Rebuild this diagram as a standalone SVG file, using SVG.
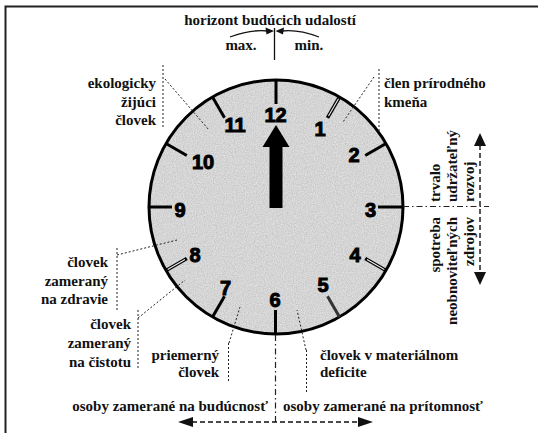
<svg xmlns="http://www.w3.org/2000/svg" width="538" height="433" viewBox="0 0 538 433">
<defs>
<filter id="speckle" x="0" y="0" width="100%" height="100%">
<feTurbulence type="fractalNoise" baseFrequency="0.9" numOctaves="2" seed="4" result="t"/>
<feColorMatrix in="t" type="matrix" values="0 0 0 0 0  0 0 0 0 0  0 0 0 0 0  0 0 0 0.22 -0.05" result="n"/>
<feComposite in="n" in2="SourceGraphic" operator="in"/>
</filter>
</defs>
<style>
.lbl{font-family:"Liberation Serif","Times New Roman",serif;font-weight:bold;font-size:15px;fill:#111}
.num{font-family:"Liberation Sans",Arial,sans-serif;font-weight:bold;font-size:20px;fill:#000;stroke:#000;stroke-width:1;text-anchor:middle}
.tick{stroke:#000;stroke-width:3;fill:none}
.dbl{stroke:#000;stroke-width:3.6;fill:none}
.dblin{stroke:#eee;stroke-width:1.1;fill:none}
.dot{stroke:#222;stroke-width:1;stroke-dasharray:2 2;fill:none}
.dashdot{stroke:#222;stroke-width:1.2;stroke-dasharray:6 3 1.5 3;fill:none}
.dash{stroke:#111;stroke-width:1.4;stroke-dasharray:5 3;fill:none}
.r{text-anchor:end}
</style>
<rect width="538" height="433" fill="#fff"/>
<path d="M5.5,433 V6.5 H538" fill="none" stroke="#222" stroke-width="2"/>

<g id="clock">
<circle cx="276" cy="207" r="127" fill="#e2e2e2"/>
<circle cx="276" cy="207" r="127" fill="#000" filter="url(#speckle)"/>
<circle cx="276" cy="207" r="127" fill="none" stroke="#000" stroke-width="3"/>
<g id="ticks">
<line class="tick" x1="276" y1="80" x2="276" y2="104"/>
<line class="tick" x1="212.5" y1="97" x2="224.5" y2="117.8"/>
<line class="tick" x1="166" y1="143.5" x2="186.8" y2="155.5"/>
<line class="tick" x1="149" y1="207" x2="172" y2="207"/>
<line class="tick" x1="212.5" y1="317" x2="224.5" y2="296.2"/>
<line class="tick" x1="275.5" y1="334" x2="275.5" y2="310"/>
<line x1="339.5" y1="317" x2="327.5" y2="296.2" stroke="#333" stroke-width="3"/>
<line class="tick" x1="386" y1="143.5" x2="365.2" y2="155.5"/>
<line class="tick" x1="403" y1="207" x2="378" y2="207"/>
<line class="dbl" x1="339.5" y1="97" x2="327.5" y2="117.8"/>
<line class="dblin" x1="338.5" y1="98.7" x2="328.5" y2="116"/>
<line class="dbl" x1="386" y1="270.5" x2="365.2" y2="258.5"/>
<line class="dblin" x1="384.3" y1="269.5" x2="367" y2="259.5"/>
<line class="dbl" x1="166" y1="270.5" x2="186.8" y2="258.5"/>
<line class="dblin" x1="167.7" y1="269.5" x2="185" y2="259.5"/>
</g>
<g id="numbers">
<text class="num" x="275.5" y="121.7">12</text>
<text class="num" x="235" y="132">11</text>
<text class="num" x="320" y="136">1</text>
<text class="num" x="203" y="169">10</text>
<text class="num" x="354" y="162">2</text>
<text class="num" x="180" y="217">9</text>
<text class="num" x="370.5" y="217">3</text>
<text class="num" x="195" y="262">8</text>
<text class="num" x="355" y="262">4</text>
<text class="num" x="225.5" y="294.5">7</text>
<text class="num" x="323" y="292">5</text>
<text class="num" x="275" y="307">6</text>
</g>
<g id="hand">
<polygon points="276,125 289.5,147 262.5,147" fill="#000"/>
<rect x="269.5" y="146" width="13" height="62" fill="#000"/>
</g>
</g>

<g id="horizon">
<text class="lbl" x="270" y="24.5" text-anchor="middle" font-size="14.5">horizont budúcich udalostí</text>
<text class="lbl" x="241" y="50" text-anchor="middle">max.</text>
<text class="lbl" x="309" y="50" text-anchor="middle">min.</text>
</g>

<g id="connectors">
<path d="M230,37 Q252,29 268,31" fill="none" stroke="#111" stroke-width="1.3"/>
<path d="M319,37 Q298,29 282,31" fill="none" stroke="#111" stroke-width="1.3"/>
<polygon points="274,31 265.5,27.5 266.5,34.5" fill="#111"/>
<polygon points="275.5,31 284,27.5 283,34.5" fill="#111"/>
<line x1="274.5" y1="28" x2="274.5" y2="60" stroke="#111" stroke-width="1.3"/>

<line class="dot" x1="163" y1="65" x2="163" y2="129"/>
<line class="dot" x1="165" y1="79" x2="209" y2="130"/>
<line class="dot" x1="379" y1="69" x2="379" y2="132"/>
<line class="dot" x1="374" y1="77" x2="343" y2="122"/>

<line class="dot" x1="117" y1="248" x2="117" y2="310"/>
<line class="dot" x1="117" y1="255" x2="177" y2="240"/>
<line class="dot" x1="138" y1="310" x2="138" y2="370"/>
<line class="dot" x1="138" y1="318" x2="185" y2="280"/>

<line class="dot" x1="228.5" y1="343" x2="228.5" y2="383"/>
<line class="dot" x1="229" y1="343" x2="240" y2="307"/>
<line class="dot" x1="306.5" y1="350" x2="306.5" y2="392"/>
<line class="dot" x1="306" y1="350" x2="297" y2="310"/>

<line class="dashdot" x1="403" y1="206.5" x2="489" y2="206.5"/>
<line class="dashdot" x1="275.5" y1="335" x2="275.5" y2="422"/>

<line class="dash" x1="480" y1="145" x2="480" y2="273"/>
<polygon points="480,133 486,146 474,146" fill="#111"/>
<polygon points="480,285 486,272 474,272" fill="#111"/>

<line class="dash" x1="192" y1="422" x2="359" y2="422"/>
<polygon points="178,422 193,417 193,427" fill="#111"/>
<polygon points="373,422 358,417 358,427" fill="#111"/>
</g>

<g id="label-ekologicky">
<text class="lbl r" x="156" y="88">ekologicky</text>
<text class="lbl r" x="156" y="106.5">žijúci</text>
<text class="lbl r" x="156" y="125">človek</text>
</g>
<g id="label-clen">
<text class="lbl" x="384" y="88">člen prírodného</text>
<text class="lbl" x="384" y="107">kmeňa</text>
</g>
<g id="label-zdravie">
<text class="lbl r" x="108" y="267">človek</text>
<text class="lbl r" x="108" y="285.5">zameraný</text>
<text class="lbl r" x="108" y="304">na zdravie</text>
</g>
<g id="label-cistotu">
<text class="lbl r" x="131" y="329">človek</text>
<text class="lbl r" x="131" y="348">zameraný</text>
<text class="lbl r" x="131" y="366.5">na čistotu</text>
</g>
<g id="label-priemerny">
<text class="lbl r" x="219" y="359.5">priemerný</text>
<text class="lbl r" x="219" y="377">človek</text>
</g>
<g id="label-deficit">
<text class="lbl" x="320" y="359.5">človek v materiálnom</text>
<text class="lbl" x="320" y="377">deficite</text>
</g>
<g id="label-trvalo">
<text class="lbl" transform="translate(440,202) rotate(-90)">trvalo</text>
<text class="lbl" transform="translate(457,202) rotate(-90)">udržateľný</text>
<text class="lbl" transform="translate(474,202) rotate(-90)">rozvoj</text>
</g>
<g id="label-spotreba">
<text class="lbl r" transform="translate(440,217) rotate(-90)">spotreba</text>
<text class="lbl r" transform="translate(457,217) rotate(-90)">neobnoviteľných</text>
<text class="lbl r" transform="translate(474,217) rotate(-90)">zdrojov</text>
</g>
<g id="label-bottom">
<text class="lbl r" x="268" y="411">osoby zamerané na budúcnosť</text>
<text class="lbl" x="283" y="411">osoby zamerané na prítomnosť</text>
</g>
</svg>
